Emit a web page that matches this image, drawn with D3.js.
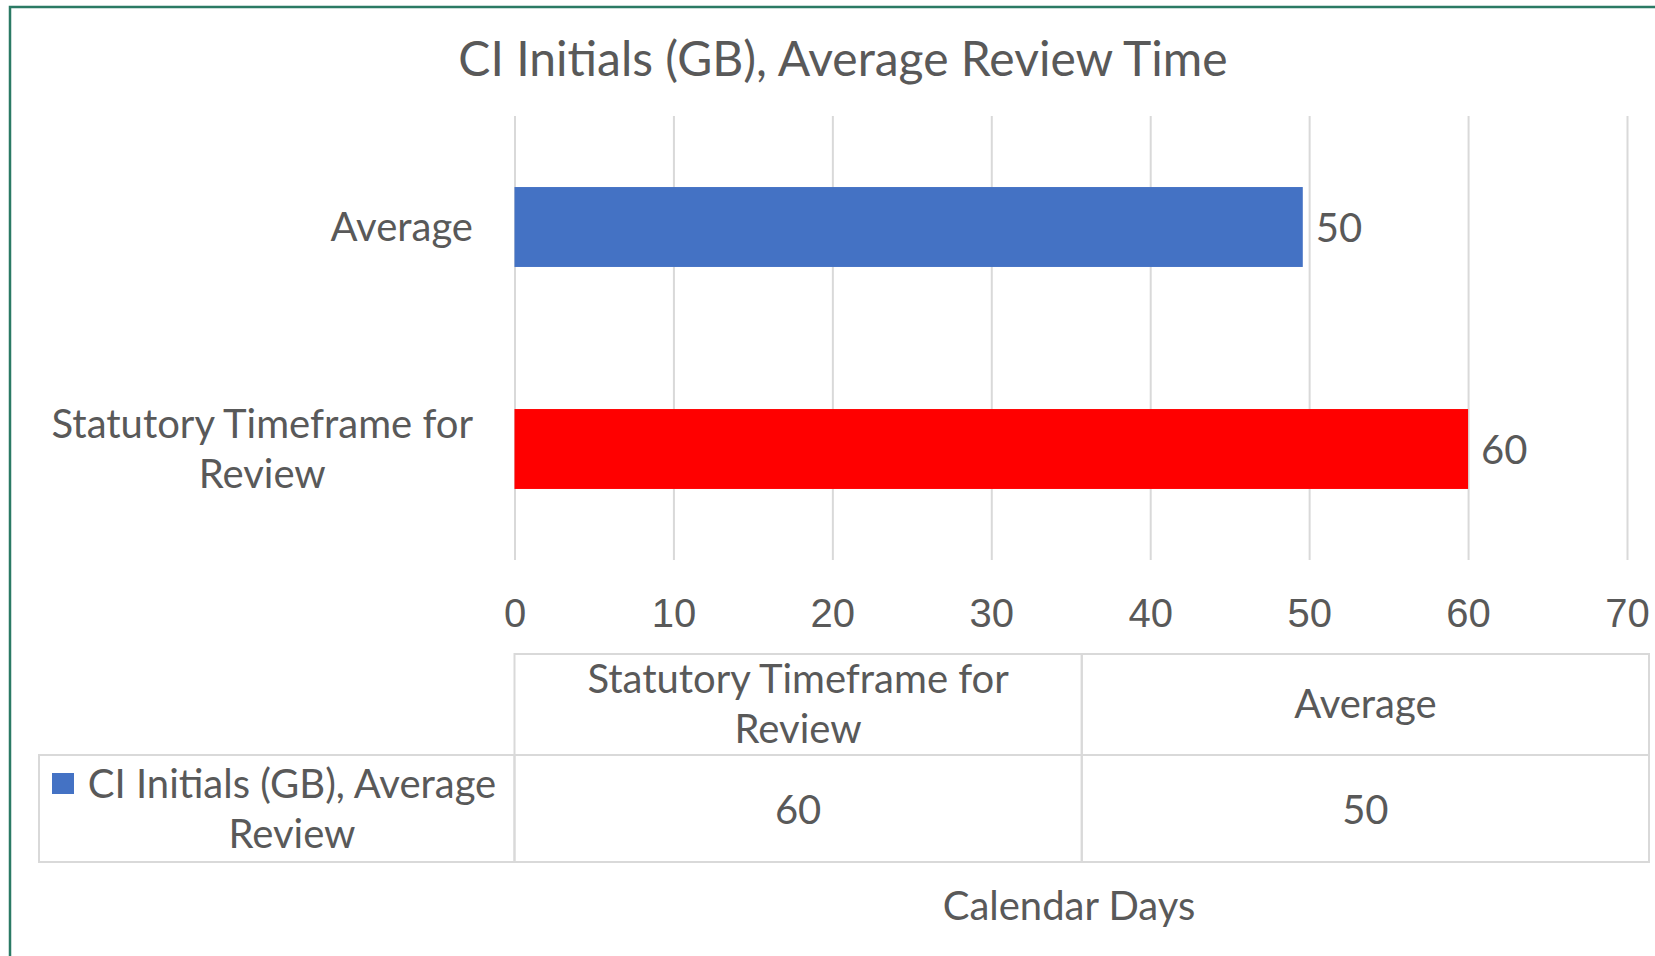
<!DOCTYPE html>
<html>
<head>
<meta charset="utf-8">
<script src="https://cdn.jsdelivr.net/npm/d3@7"></script>
<style>
  html, body { margin: 0; padding: 0; background: #fff; }
  svg { display: block; font-family: Lato, "Noto Sans", sans-serif; }
  .txt { fill: #595959; }
</style>
</head>
<body>
<svg id="chart" width="1655" height="956"></svg>
<script>
// ── Data ─────────────────────────────────────────────────────────────────────

const chartTitle = "CI Initials (GB), Average Review Time";
const categories = ["Statutory Timeframe for\nReview", "Average"]; // table order (first = bottom bar)
const values = [60, 49.6];
const barColors = ["#FF0000", "#4472C4"];
const xTicks = [0, 10, 20, 30, 40, 50, 60, 70];
const seriesName = "CI Initials (GB), Average\nReview";
const seriesColor = "#4472C4";
const axisTitle = "Calendar Days";

// ── Layout ───────────────────────────────────────────────────────────────────

const W = 1655, H = 956;
const plot = { left: 514.5, right: 1627, top: 116, bottom: 560 };
const table = { left: 39, right: 1649, top: 654, mid: 755, bottom: 862 };
const LABEL_SIZE = 40;
const TITLE_SIZE = 48;
const LINE_H = 50;
const GRID = "#D9D9D9";

const svg = d3.select("#chart");

// outer chart border
svg.append("rect")
  .attr("x", 10).attr("y", 7)
  .attr("width", W + 20).attr("height", H + 20)
  .attr("fill", "#fff")
  .attr("stroke", "#2b7a64")
  .attr("stroke-width", 2.5);

const rows = categories.map((c, i) => ({ cat: c, value: values[i], color: barColors[i] }));

const x = d3.scaleLinear().domain([0, 70]).range([plot.left, plot.right]);
const y = d3.scaleBand()
  .domain(categories.slice().reverse())
  .range([plot.top, plot.bottom])
  .paddingInner(0.64)
  .paddingOuter(0.32);

// helper: write multi-line text centred on its own widest line
function multiLine(sel, text, anchorX, alignRight) {
  const lines = text.split("\n");
  const n = lines.length;
  const t = sel.append("text").attr("class", "txt").attr("font-size", LABEL_SIZE);
  lines.forEach((ln, i) => {
    t.append("tspan")
      .attr("x", 0)
      .attr("dy", i === 0 ? `${0.35 - (n - 1) * LINE_H / 2 / LABEL_SIZE}em` : `${LINE_H / LABEL_SIZE}em`)
      .attr("text-anchor", "middle")
      .text(ln);
  });
  const widest = d3.max(t.selectAll("tspan").nodes(), (n) => n.getComputedTextLength());
  const cx = alignRight ? anchorX - widest / 2 : anchorX;
  t.selectAll("tspan").attr("x", cx);
  return t;
}

// ── Title ────────────────────────────────────────────────────────────────────

svg.append("text")
  .attr("class", "txt")
  .attr("x", 843).attr("y", 59)
  .attr("dy", "0.35em")
  .attr("text-anchor", "middle")
  .attr("font-size", TITLE_SIZE)
  .text(chartTitle);

// ── X axis (gridlines + tick labels) ────────────────────────────────────────

const xAxis = svg.append("g")
  .attr("transform", `translate(0,${plot.bottom})`)
  .call(d3.axisBottom(x).tickValues(xTicks).tickSize(-(plot.bottom - plot.top)).tickSizeOuter(0));
xAxis.select(".domain").remove();
xAxis.selectAll(".tick line").attr("stroke", GRID).attr("stroke-width", 2);
xAxis.selectAll(".tick text")
  .attr("class", "txt")
  .attr("y", 53).attr("dy", "0.35em")
  .attr("font-size", LABEL_SIZE)
  .attr("font-family", null);

// ── Bars ─────────────────────────────────────────────────────────────────────

svg.append("g")
  .selectAll("rect")
  .data(rows)
  .join("rect")
  .attr("x", x(0))
  .attr("y", (d) => y(d.cat))
  .attr("width", (d) => x(d.value) - x(0))
  .attr("height", y.bandwidth())
  .attr("fill", (d) => d.color);

svg.append("g")
  .selectAll("text")
  .data(rows)
  .join("text")
  .attr("class", "txt")
  .attr("x", (d) => x(d.value) + 13)
  .attr("y", (d) => y(d.cat) + y.bandwidth() / 2 + 1)
  .attr("dy", "0.35em")
  .attr("font-size", LABEL_SIZE)
  .text((d) => d3.format(".0f")(d.value));

// category labels
const yLab = svg.append("g");
for (const c of categories) {
  const g = yLab.append("g").attr("transform", `translate(0,${y(c) + y.bandwidth() / 2})`);
  multiLine(g, c, 473, true);
}

// ── Data table ───────────────────────────────────────────────────────────────

const col = d3.scaleBand().domain(categories).range([plot.left, table.right]);
const tbl = svg.append("g").attr("stroke", GRID).attr("stroke-width", 2).attr("fill", "none");

// header cells + value cells
for (const c of categories) {
  tbl.append("rect").attr("x", col(c)).attr("y", table.top)
    .attr("width", col.bandwidth()).attr("height", table.mid - table.top);
  tbl.append("rect").attr("x", col(c)).attr("y", table.mid)
    .attr("width", col.bandwidth()).attr("height", table.bottom - table.mid);
}
// legend cell
tbl.append("rect").attr("x", table.left).attr("y", table.mid)
  .attr("width", plot.left - table.left).attr("height", table.bottom - table.mid);

for (const c of categories) {
  const g = svg.append("g").attr("transform", `translate(0,${(table.top + table.mid) / 2 - 1})`);
  multiLine(g, c, col(c) + col.bandwidth() / 2, false);
}

svg.append("g")
  .selectAll("text")
  .data(rows)
  .join("text")
  .attr("class", "txt")
  .attr("x", (d) => col(d.cat) + col.bandwidth() / 2)
  .attr("y", (table.mid + table.bottom) / 2 + 1)
  .attr("dy", "0.35em")
  .attr("text-anchor", "middle")
  .attr("font-size", LABEL_SIZE)
  .text((d) => d3.format(".0f")(d.value));

// legend key + series name
svg.append("rect")
  .attr("x", 52).attr("y", 773)
  .attr("width", 22).attr("height", 21)
  .attr("fill", seriesColor);
const lg = svg.append("g").attr("transform", `translate(0,${(table.mid + table.bottom) / 2})`);
multiLine(lg, seriesName, 292, false);

// ── Axis title ───────────────────────────────────────────────────────────────

svg.append("text")
  .attr("class", "txt")
  .attr("x", 1069).attr("y", 906)
  .attr("dy", "0.35em")
  .attr("text-anchor", "middle")
  .attr("font-size", LABEL_SIZE)
  .text(axisTitle);
</script>
</body>
</html>
